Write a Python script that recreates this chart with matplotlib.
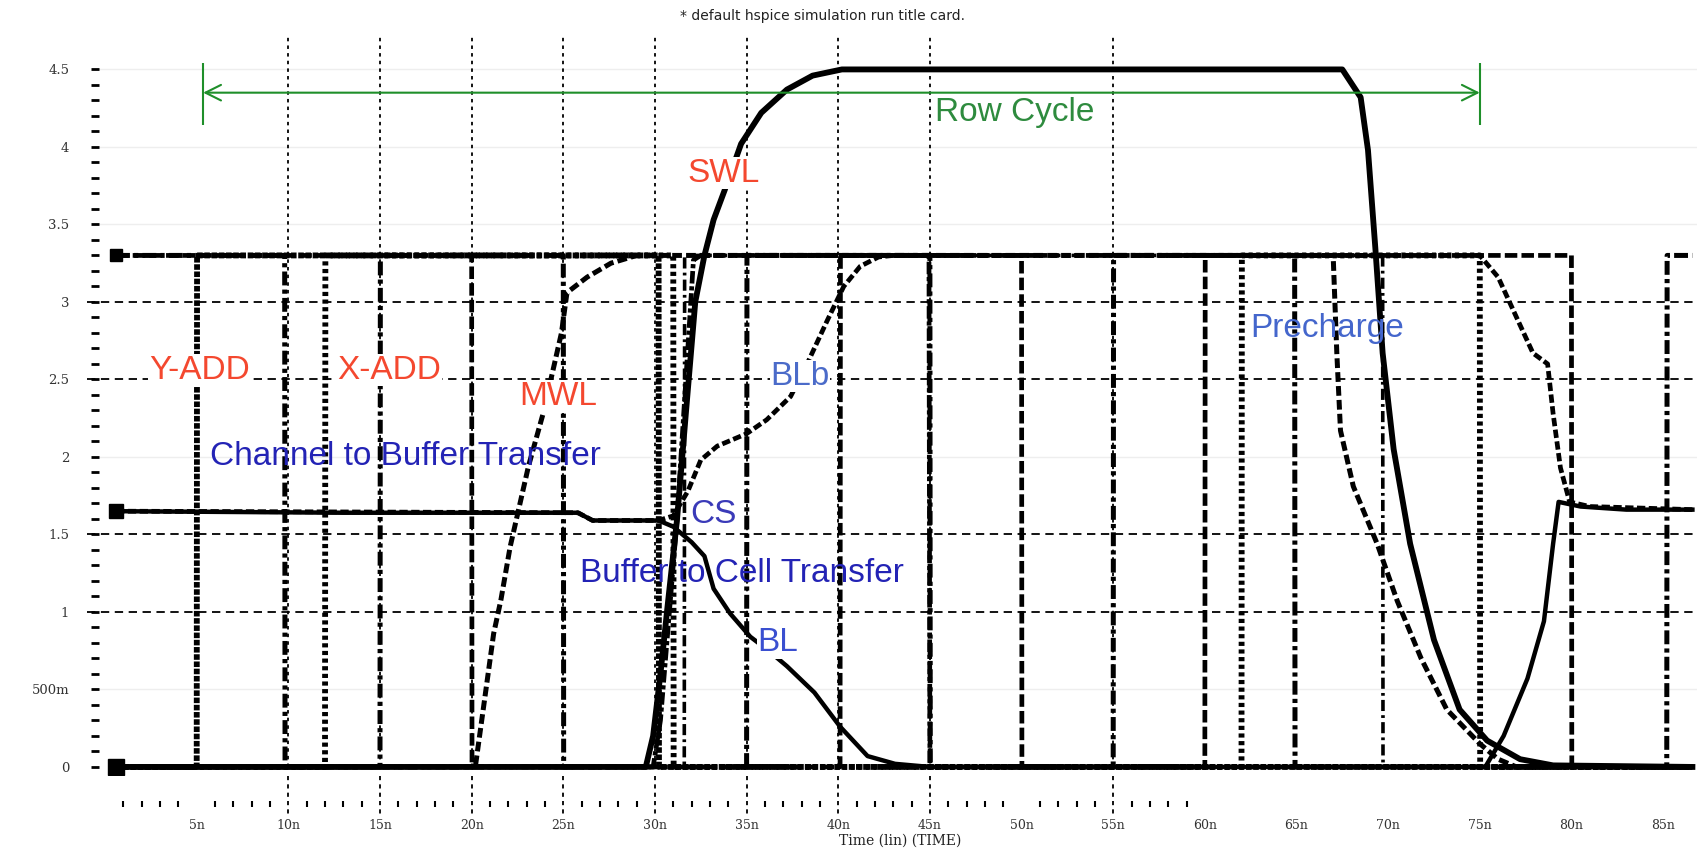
import numpy as np
import matplotlib.pyplot as plt

plt.rcParams['font.family'] = ['Liberation Sans', 'DejaVu Sans']
plt.rcParams['lines.scale_dashes'] = False

HI = 3.3
T_START = 0.6
T_END = 86.6

# logic / address pulse trains: starting level and edge times (ns)
a_start, a_edges = 3.3, [9.8, 15.0, 25.0, 35.0, 45.0, 55.0, 64.9, 85.2]
b_start, b_edges = 3.3, [20.0, 40.1, 50.0, 60.0, 80.0]
c_start, c_edges = 0.0, [5.0, 30.2]
d_start, d_edges = 0.0, [12.0, 31.0, 62.0, 75.0]
e_start, e_edges = 0.0, [31.6, 69.7]

# analog nodes (ns, V)
swl_t = [0.6, 29.5, 29.9, 30.3, 30.7, 31.2, 31.7, 32.2, 32.7, 33.2, 33.8, 34.7, 35.8,
         37.2, 38.6, 40.2, 67.5, 68.5, 68.9, 69.3, 69.7, 70.3, 71.2, 72.5, 73.9,
         75.4, 77.2, 79.0, 86.6]
swl_v = [0, 0, 0.2, 0.6, 1.05, 1.59, 2.3, 3.0, 3.3, 3.53, 3.72, 4.02, 4.22,
         4.37, 4.46, 4.5, 4.5, 4.32, 3.98, 3.35, 2.67, 2.05, 1.44, 0.82, 0.37,
         0.17, 0.05, 0.01, 0]

mwl_t = [0.6, 20.2, 20.7, 21.2, 21.6, 22.1, 23.1, 23.9, 24.9, 25.2, 26.3, 27.6, 29.0,
         67.0, 67.2, 67.4, 68.1, 69.4, 70.5, 71.8, 73.2, 75.0, 76.0, 77.0, 86.6]
mwl_v = [0, 0, 0.43, 0.86, 1.08, 1.42, 1.94, 2.28, 2.8, 3.06, 3.16, 3.25, 3.3,
         3.3, 2.67, 2.17, 1.81, 1.44, 1.07, 0.7, 0.37, 0.15, 0.05, 0, 0]

bl_t = [0.6, 13.0, 25.8, 26.6, 30.2, 31.0, 32.0, 32.7, 33.2, 34.1, 35.2, 36.2, 37.2,
        38.7, 40.1, 41.6, 43.1, 45.0, 75.3, 76.3, 77.6, 78.5, 79.0, 79.3, 80.5,
        83.0, 86.6]
bl_v = [1.65, 1.64, 1.64, 1.59, 1.59, 1.55, 1.45, 1.36, 1.15, 0.99, 0.84, 0.75, 0.65,
        0.48, 0.26, 0.07, 0.02, 0, 0, 0.2, 0.57, 0.94, 1.44, 1.71, 1.68,
        1.66, 1.66]

blb_t = [0.6, 25.8, 26.6, 30.2, 31.0, 31.8, 32.5, 33.4, 35.0, 36.1, 37.4, 38.3, 39.4,
         40.3, 41.2, 42.2, 43.0, 75.0, 76.0, 77.2, 77.9, 78.7, 79.0, 79.4, 79.9,
         81.0, 86.6]
blb_v = [1.65, 1.64, 1.59, 1.59, 1.62, 1.78, 1.98, 2.07, 2.15, 2.24, 2.39, 2.6, 2.88,
         3.1, 3.23, 3.29, 3.3, 3.3, 3.16, 2.85, 2.67, 2.6, 2.28, 1.93, 1.71,
         1.68, 1.66]

cs_t = [0.6, 29.9, 30.3, 31.2, 32.1, 32.5, 44.95, 45.0, 86.6]
cs_v = [0, 0, 0.3, 1.59, 3.27, 3.3, 3.3, 0, 0]

# annotations
row_cycle = [5.35, 75.0]
row_cycle_v = 4.35
grid_t = [10, 15, 20, 25, 30, 35, 40, 45, 55]
hgrid_v = [3.0, 2.5, 1.5, 1.0]
faint_v = [4.5, 4.0, 3.5, 2.0, 0.5]
xticks = list(range(5, 90, 5))
xlabels = [f'{t}n' for t in xticks]
yticks = [0, 0.5, 1, 1.5, 2, 2.5, 3, 3.5, 4, 4.5]
ylabels = ['0', '500m', '1', '1.5', '2', '2.5', '3', '3.5', '4', '4.5']


def steps(start, edges):
    t, v, lvl = [T_START], [start], start
    for e in edges:
        new = 0.0 if lvl else HI
        t += [e, e + 0.02]
        v += [lvl, new]
        lvl = new
    t.append(T_END)
    v.append(lvl)
    return t, v


W, H = 1697, 848
fig = plt.figure(figsize=(W / 100, H / 100), dpi=100)
ax = fig.add_axes([99 / W, (H - 775) / H, (W - 99) / W, (775 - 33) / H])
ax.set_xlim(-0.33, 86.85)
ax.set_ylim(-0.052, 4.735)
for s in ax.spines.values():
    s.set_visible(False)

# grid
for v in faint_v:
    ax.axhline(v, color='#eeeeee', lw=1, zorder=0)
ax.hlines(hgrid_v, -1.0, 86.85, colors='black', lw=1.3, linestyles=(0, (6, 4)),
          clip_on=False, zorder=1)
ax.vlines(grid_t, 0, 4.72, colors='black', lw=1.3, linestyles=(0, (2.5, 3)),
          clip_on=False, zorder=1)

# x ticks drawn below the zero line
ax.vlines(grid_t, -0.06, -0.31, colors='black', lw=1.3, linestyles=(0, (3, 3)),
          clip_on=False)
minor_t = [t for t in range(1, 60) if t % 5]
ax.vlines(minor_t, -0.22, -0.26, colors='black', lw=1.5, clip_on=False)

ax.set_xticks(xticks)
ax.set_xticklabels(xlabels, fontsize=9, color='#333333', family='DejaVu Serif')
ax.tick_params(axis='x', length=0, pad=32)
ax.set_yticks(yticks)
ax.set_yticklabels(ylabels, fontsize=9.5, color='#333333', family='DejaVu Serif')
ax.set_yticks(np.arange(0, 4.55, 0.1), minor=True)
ax.tick_params(axis='y', which='both', length=5.5, width=2, pad=16, color='black')

# pulse trains
pulses = [
    (a_start, a_edges, dict(lw=3.6, dashes=(10, 3, 3, 3))),
    (b_start, b_edges, dict(lw=3.4, dashes=(9, 3))),
    (c_start, c_edges, dict(lw=4.2, dashes=(4, 1.2))),
    (d_start, d_edges, dict(lw=4.2, dashes=(3, 2.5))),
    (e_start, e_edges, dict(lw=2.6, dashes=(8, 3, 2, 3))),
]
for start, edges, style in pulses:
    t, v = steps(start, edges)
    ax.plot(t, v, color='black', zorder=2, clip_on=False, **style)

ax.plot(cs_t, cs_v, color='black', lw=3.4, dashes=(9, 2, 3, 2), zorder=2)
ax.plot(mwl_t, mwl_v, color='black', lw=3.6, dashes=(7, 3), zorder=3)
ax.plot(blb_t, blb_v, color='black', lw=3.4, dashes=(6, 2.5), zorder=3)
ax.plot(bl_t, bl_v, color='black', lw=3.2, zorder=3,
        marker='s', markersize=10, markevery=[0])
ax.plot(swl_t, swl_v, color='black', lw=4.2, zorder=3,
        marker='s', markersize=12, markevery=[0])
ax.plot([T_START], [HI], color='black', marker='s', markersize=9, zorder=3)

# row cycle arrow
green = '#1f8f2a'
ax.annotate('', xy=(row_cycle[1], row_cycle_v), xytext=(row_cycle[0], row_cycle_v),
            arrowprops=dict(arrowstyle='<->', color=green, lw=1.5,
                            mutation_scale=28, shrinkA=0, shrinkB=0), zorder=4)
ax.vlines(row_cycle, row_cycle_v - 0.21, row_cycle_v + 0.19, colors=green, lw=1.5, zorder=4)
ax.text(45.3, 4.22, 'Row Cycle', color='#2e8b3e', fontsize=24, va='center', zorder=5)

red = '#f4482f'
box = dict(facecolor='white', edgecolor='none', pad=0.5)
lbl = dict(fontsize=24, va='center', ha='left', zorder=5)
ax.text(2.4, 2.56, 'Y-ADD', color=red, bbox=box, **lbl)
ax.text(12.66, 2.56, 'X-ADD', color=red, bbox=box, **lbl)
ax.text(22.6, 2.39, 'MWL', color=red, bbox=box, **lbl)
ax.text(31.8, 3.83, 'SWL', color=red, bbox=box, **lbl)
ax.text(5.73, 2.0, 'Channel to Buffer Transfer', color='#2323b5', **lbl)
ax.text(25.9, 1.25, 'Buffer to Cell Transfer', color='#2323b5', **lbl)
ax.text(31.9, 1.63, 'CS', color='#3a3ab8', **lbl)
ax.text(36.3, 2.52, 'BLb', color='#4b6bc9', bbox=box, **lbl)
ax.text(35.6, 0.8, 'BL', color='#3a4fd0', bbox=box, **lbl)
ax.text(62.5, 2.83, 'Precharge', color='#4466cc', **lbl)

fig.text(822 / W, 1 - 16 / H, '* default hspice simulation run title card.',
         ha='center', va='center', fontsize=10, color='#222222', family='DejaVu Sans')
fig.text(900 / W, 1 - 841 / H, 'Time (lin) (TIME)', ha='center', va='center',
         fontsize=10, color='#222222', family='DejaVu Serif')

fig.savefig('out.png', dpi=100, facecolor='white')
